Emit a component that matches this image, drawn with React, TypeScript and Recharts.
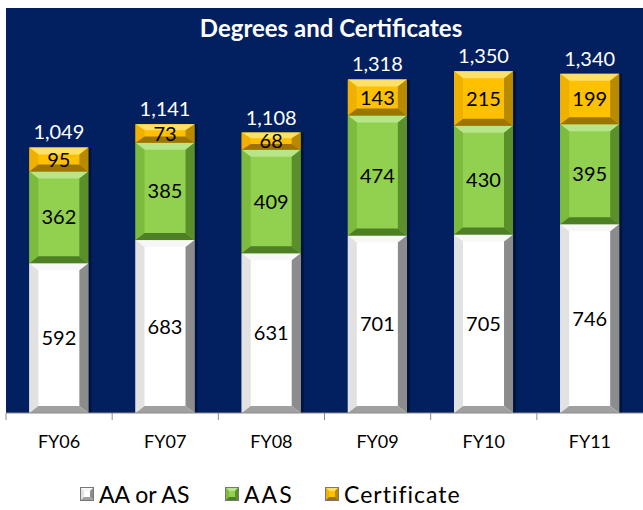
import React from 'react';
import { BarChart, Bar, XAxis, YAxis, CartesianGrid, LabelList } from 'recharts';

const years = ['FY06', 'FY07', 'FY08', 'FY09', 'FY10', 'FY11'];
const aaOrAs = [592, 683, 631, 701, 705, 746];
const aas = [362, 385, 409, 474, 430, 395];
const certificate = [95, 73, 68, 143, 215, 199];

const data = years.map((year, i) => ({
  year,
  aaOrAs: aaOrAs[i],
  aas: aas[i],
  certificate: certificate[i],
  total: aaOrAs[i] + aas[i] + certificate[i],
}));

const FONT = 'Lato, "Open Sans", sans-serif';
const NAVY = '#02205f';

// face / top bevel / left / right / bottom
const palettes: Record<string, string[]> = {
  white: ['#ffffff', '#f7f7f7', '#e2e2e2', '#8c8c8c', '#a0a0a0'],
  green: ['#92d050', '#b8e58a', '#7dbb3e', '#5b8f2c', '#4f7f25'],
  gold: ['#ffc000', '#ffe066', '#f0b000', '#b88a00', '#9c7400'],
};

const bevel = (pal: string[]) => (props: any) => {
  const { x, y, width, height } = props;
  if (!height || height <= 0) return null;
  const [face, top, left, right, bottom] = pal;
  const bx = Math.min(9, width / 4);
  const by = Math.min(7, height / 3);
  const x2 = x + width;
  const y2 = y + height;
  return (
    <g>
      <rect x={x} y={y} width={width} height={height} fill={face} />
      <polygon points={`${x},${y} ${x2},${y} ${x2 - bx},${y + by} ${x + bx},${y + by}`} fill={top} />
      <polygon points={`${x},${y} ${x + bx},${y + by} ${x + bx},${y2 - by} ${x},${y2}`} fill={left} />
      <polygon points={`${x2},${y} ${x2},${y2} ${x2 - bx},${y2 - by} ${x2 - bx},${y + by}`} fill={right} />
      <polygon points={`${x},${y2} ${x + bx},${y2 - by} ${x2 - bx},${y2 - by} ${x2},${y2}`} fill={bottom} />
      <rect x={x2} y={y} width={3} height={height} fill="#000" opacity={0.35} />
    </g>
  );
};

const fmt = (v: any) => Number(v).toLocaleString('en-US');

const BAND = 637 / years.length;

const Tick = (props: any) => {
  const { x, y, payload } = props;
  return (
    <g>
      <line x1={x - BAND / 2} y1={y - 8} x2={x - BAND / 2} y2={y - 1} stroke="#8c8c8c" />
      <text x={x} y={y + 27} textAnchor="middle" fill="#000" fontSize={18} fontFamily={FONT}>
        {payload.value}
      </text>
    </g>
  );
};

const legendItems = [
  { name: 'AA or AS', pal: palettes.white, left: 80, spacing: 0 },
  { name: 'AAS', pal: palettes.green, left: 225, spacing: 2 },
  { name: 'Certificate', pal: palettes.gold, left: 325, spacing: 1 },
];

const LegendIcon = ({ pal }: { pal: string[] }) => (
  <svg width={14} height={14} style={{ marginRight: 5 }}>
    <rect x={0} y={0} width={14} height={14} fill={pal[0]} />
    <polygon points="0,0 14,0 10,4 4,4" fill={pal[1]} />
    <polygon points="0,0 4,4 4,10 0,14" fill={pal[2]} />
    <polygon points="14,0 14,14 10,10 10,4" fill={pal[3]} />
    <polygon points="0,14 4,10 10,10 14,14" fill={pal[4]} />
    <rect x={0.5} y={0.5} width={13} height={13} fill="none" stroke="#777" strokeWidth={1} />
  </svg>
);

export default function App() {
  return (
    <div style={{ position: 'absolute', left: 0, top: 0, width: 643, height: 510, background: '#fff' }}>
      <BarChart
        width={643}
        height={510}
        data={data}
        margin={{ top: 8, right: 0, left: 6, bottom: 67 }}
        barCategoryGap="22%"
      >
        <CartesianGrid fill={NAVY} horizontal={false} vertical={false} />
        <XAxis
          dataKey="year"
          height={30}
          tick={<Tick />}
          tickLine={false}
          axisLine={{ stroke: '#8c8c8c' }}
          interval={0}
        />
        <YAxis hide domain={[0, 1600]} />
        <Bar dataKey="aaOrAs" stackId="a" shape={bevel(palettes.white)} isAnimationActive={false}>
          <LabelList dataKey="aaOrAs" position="center" fill="#000" fontSize={20} fontFamily={FONT} />
        </Bar>
        <Bar dataKey="aas" stackId="a" shape={bevel(palettes.green)} isAnimationActive={false}>
          <LabelList dataKey="aas" position="center" fill="#000" fontSize={20} fontFamily={FONT} />
        </Bar>
        <Bar dataKey="certificate" stackId="a" shape={bevel(palettes.gold)} isAnimationActive={false}>
          <LabelList dataKey="certificate" position="center" fill="#000" fontSize={20} fontFamily={FONT} />
          <LabelList
            dataKey="total"
            position="top"
            offset={8}
            fill="#fff"
            fontSize={20}
            fontFamily={FONT}
            formatter={fmt}
          />
        </Bar>
      </BarChart>
      <div
        style={{
          position: 'absolute',
          left: 6,
          width: 650,
          top: 13,
          textAlign: 'center',
          color: '#fff',
          fontFamily: FONT,
          fontWeight: 700,
          fontSize: 24,
        }}
      >
        Degrees and Certificates
      </div>
      {legendItems.map((it) => (
        <div
          key={it.name}
          style={{
            position: 'absolute',
            left: it.left,
            top: 480,
            display: 'flex',
            alignItems: 'center',
            fontFamily: FONT,
            fontSize: 23,
            letterSpacing: it.spacing,
            color: '#000',
            whiteSpace: 'nowrap',
          }}
        >
          <LegendIcon pal={it.pal} />
          {it.name}
        </div>
      ))}
    </div>
  );
}
